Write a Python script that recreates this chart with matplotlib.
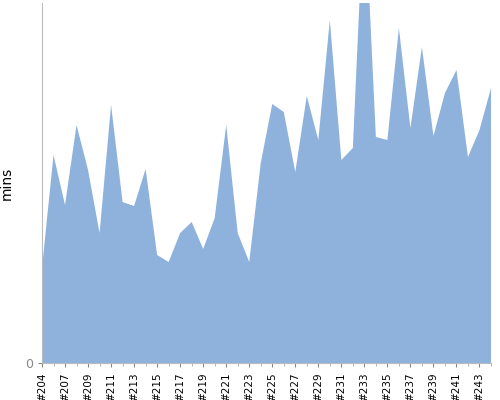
import matplotlib
matplotlib.use("Agg")
import matplotlib.pyplot as plt

builds = [204, 205] + list(range(207, 245))
mins = [95, 208, 158, 238, 193, 130, 258, 161, 157, 194,
        108, 101, 130, 141, 114, 145, 238, 130, 101, 200,
        259, 251, 191, 267, 223, 343, 203, 215, 470, 226,
        223, 335, 235, 316, 227, 270, 293, 206, 233, 275]
labels = ["#%d" % b for b in builds]

fig = plt.figure(figsize=(5, 4), dpi=100)
ax = fig.add_axes([0.084, 0.0925, 0.898, 0.9])
x = list(range(len(builds)))
ax.fill_between(x, mins, 0, color="#8fb2dc", linewidth=0)
ax.set_xlim(0, len(builds) - 1)
ax.set_ylim(0, 360)
ax.set_yticks([0])
ax.set_xticks(x[::2])
ax.set_xticklabels(labels[::2], rotation=90, fontsize=7.5)
ax.set_xticks(x, minor=True)
ax.tick_params(axis="y", colors="#888888", labelsize=9, length=3)
ax.tick_params(axis="x", colors="#888888", labelcolor="black", length=3)
ax.tick_params(axis="x", which="minor", colors="#aaaaaa", length=2)
for s in ["top", "right"]:
    ax.spines[s].set_visible(False)
for s in ["left", "bottom"]:
    ax.spines[s].set_color("#bbbbbb")
ax.set_ylabel("mins", fontsize=10, labelpad=8)
fig.savefig("out.png")
